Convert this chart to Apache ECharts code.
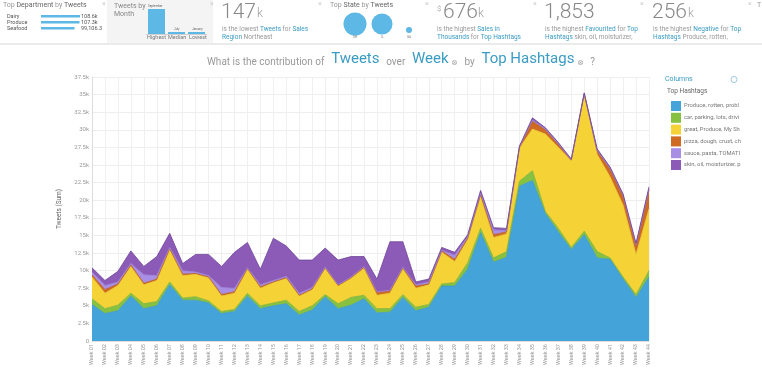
<!DOCTYPE html>
<html><head><meta charset="utf-8">
<script src="https://cdn.jsdelivr.net/npm/echarts@6/dist/echarts.min.js"></script>
<style>html,body{margin:0;padding:0;background:#fff}#c{width:762px;height:368px}</style>
</head><body><div id="c"></div>
<script>
const weeks = ['Week 01','Week 02','Week 03','Week 04','Week 05','Week 06','Week 07','Week 08','Week 09','Week 10','Week 11','Week 12','Week 13','Week 14','Week 15','Week 16','Week 17','Week 18','Week 19','Week 20','Week 21','Week 22','Week 23','Week 24','Week 25','Week 26','Week 27','Week 28','Week 29','Week 30','Week 31','Week 32','Week 33','Week 34','Week 35','Week 36','Week 37','Week 38','Week 39','Week 40','Week 41','Week 42','Week 43','Week 44'];
const seriesNames = ['Produce, rotten, probl','car, parking, lots, drivi','great, Produce, My Sh','pizza, dough, crust, ch','sauce, pasta, TOMATI','skin, oil, moisturizer, p'];
// values in thousands of tweets
const produce = [5.2,3.9,4.3,6.4,4.6,5.0,8.0,5.8,5.8,5.4,3.9,4.2,6.4,4.6,5.0,5.3,3.7,4.4,6.3,4.6,5.1,6.0,4.0,4.1,6.2,4.3,4.8,7.8,7.8,10.2,15.4,11.2,11.9,22.0,22.8,18.1,15.5,13.0,15.1,11.8,11.6,8.8,6.2,9.1];
const car = [0.8,0.7,0.8,0.4,0.7,0.6,0.4,0.3,0.5,0.3,0.3,0.3,0.4,0.4,0.4,0.5,0.5,0.6,0.3,0.7,1.1,0.5,0.6,0.5,0.4,0.5,0.4,0.3,0.5,0.9,0.6,0.6,0.8,0.7,1.4,0.3,0.5,0.3,0.5,0.9,0.2,0.3,0.4,0.9];
const great = [3.1,2.2,2.8,3.8,2.7,3.0,4.6,3.2,3.2,3.3,2.2,2.3,3.4,2.5,2.9,3.1,2.2,2.3,3.7,2.5,2.7,3.8,1.9,2.2,3.6,2.7,2.8,4.5,3.0,3.3,4.5,2.9,2.5,4.7,5.9,11.0,11.5,12.3,19.4,13.8,11.5,10.2,5.7,8.8];
const pizza = [0.3,0.5,0.2,0.2,0.2,0.2,0.1,0.2,0.1,0.1,0.2,0.2,0.1,0.2,0.1,0.1,0.1,0.1,0.1,0.1,0.1,0.2,0.4,0.3,0.2,0.3,0.1,0.2,0.3,0.2,0.3,0.4,0.3,0.1,1.1,0.6,0.4,0.1,0.1,0.5,1.1,1.3,1.2,2.7];
const sauce = [0.4,0.6,0.3,0.2,1.2,0.5,0.2,0.5,0.2,0.2,1.0,0.5,0.1,0.3,0.2,0.2,0.3,0.2,0.1,0.1,0.1,0.1,0.1,0.1,0.1,0.2,0.3,0.1,0.6,0.2,0.2,0.7,0.2,0.1,0.2,0.1,0.1,0.05,0.05,0.1,0.1,0.1,0.1,0.1];
const skin = [0.6,0.7,1.5,1.8,1.2,2.7,2.0,1.0,2.5,3.0,3.0,5.1,3.6,2.2,6.0,4.3,4.7,3.9,2.7,3.5,2.9,1.4,1.8,6.9,3.6,0.4,0.4,0.4,0.4,0.3,0.4,0.3,0.3,0.1,0.3,0.2,0.2,0.1,0.1,0.2,0.2,0.2,0.3,0.3];
const yTicks = {min:0, max:37.5, interval:2.5};

const colors = ['#44a3d8','#86c140','#f5d337','#cf6a22','#a98ee6','#8c5bb7'];
const lineColors = ['#3b95c8','#78b038','#e8c42e','#b85a18','#957ad6','#6f4598'];
const allData = [produce, car, great, pizza, sauce, skin];

const chart = echarts.init(document.getElementById('c'));
const teal = '#3b9cc3';
const g = '#999';

function txt(x,y,text,style){return {type:'text',left:x,top:y,style:Object.assign({text:text,font:'7px Roboto',fill:g},style||{})};}
const rich = {
  g:{fontSize:7,fill:'#999',fontFamily:'Roboto'},
  d:{fontSize:7,fill:'#666',fontFamily:'Roboto'},
  s:{fontSize:6.5,fill:'#999',fontFamily:'Roboto'},
  t:{fontSize:6.5,fill:teal,fontFamily:'Roboto'}
};
function rtxt(x,y,text){return {type:'text',left:x,top:y,style:{text:text,rich:rich,fill:'#999'}};}
const xs = [];
[102,210,318,425,533,640,748].forEach(x=>xs.push(txt(x,1,'×',{font:'7px Roboto',fill:'#ccc'})));

const graphic = [
  {type:'rect',shape:{x:107,y:0,width:106,height:43},style:{fill:'#f4f4f4'}},
  {type:'rect',shape:{x:0,y:43,width:762,height:2},style:{fill:'#ebebeb'}},
  // card 1
  rtxt(3,2,'{g|Top }{d|Department}{g| by }{d|Tweets}'),
  txt(7,14,'Dairy',{font:'5.5px Roboto',fill:'#555'}),
  txt(7,20,'Produce',{font:'5.5px Roboto',fill:'#555'}),
  txt(7,26,'Seafood',{font:'5.5px Roboto',fill:'#555'}),
  {type:'rect',shape:{x:41,y:15,width:39,height:2.5},style:{fill:'#5db8e6'}},
  {type:'rect',shape:{x:41,y:21,width:38.5,height:2.5},style:{fill:'#5db8e6'}},
  {type:'rect',shape:{x:41,y:27,width:33.5,height:2.5},style:{fill:'#5db8e6'}},
  txt(81,14,'108.6k',{font:'5.5px Roboto',fill:'#555'}),
  txt(81,20,'107.3k',{font:'5.5px Roboto',fill:'#555'}),
  txt(81,26,'99,106.3',{font:'5.5px Roboto',fill:'#555'}),
  // card 2
  txt(114,3,'Tweets by',{font:'7px Roboto',fill:'#888'}),
  txt(114,11,'Month',{font:'7px Roboto',fill:'#888'}),
  {type:'rect',shape:{x:148,y:9,width:17,height:25},style:{fill:'#5db8e6'}},
  {type:'rect',shape:{x:168,y:32,width:17,height:2},style:{fill:'#5db8e6'}},
  {type:'rect',shape:{x:188,y:32,width:17,height:2},style:{fill:'#5db8e6'}},
  txt(148,5,'September',{font:'3px Roboto',fill:'#666'}),
  txt(174,27.5,'July',{font:'3px Roboto',fill:'#666'}),
  txt(192,27.5,'January',{font:'3px Roboto',fill:'#666'}),
  {type:'rect',shape:{x:146,y:34,width:61,height:0.6},style:{fill:'#aaa'}},
  txt(147,35,'Highest',{font:'5.5px Roboto',fill:'#777'}),
  txt(168,35,'Median',{font:'5.5px Roboto',fill:'#777'}),
  txt(189,35,'Lowest',{font:'5.5px Roboto',fill:'#777'}),
  // card 3
  txt(221,2,'147',{font:'300 21px Roboto',fill:'#888'}),
  txt(257,8,'k',{font:'300 12px Roboto',fill:'#999'}),
  rtxt(222,26,'{s|is the lowest }{t|Tweets}{s| for }{t|Sales}'),
  rtxt(222,34,'{t|Region}{s| Northeast}'),
  // card 4
  rtxt(330,2,'{g|Top }{d|State}{g| by }{d|Tweets}'),
  {type:'circle',shape:{cx:355,cy:24,r:11.5},style:{fill:'#5db8e6'}},
  {type:'circle',shape:{cx:382,cy:24,r:10.5},style:{fill:'#5db8e6'}},
  {type:'circle',shape:{cx:409,cy:30,r:3},style:{fill:'#5db8e6'}},
  txt(353,36,'OH',{font:'3px Roboto',fill:'#777'}),
  txt(381,36,'IL',{font:'3px Roboto',fill:'#777'}),
  txt(407,36,'GA',{font:'3px Roboto',fill:'#777'}),
  // card 5
  txt(437,5,'$',{font:'300 8px Roboto',fill:'#999'}),
  txt(443,2,'676',{font:'300 21px Roboto',fill:'#888'}),
  txt(478,8,'k',{font:'300 12px Roboto',fill:'#999'}),
  rtxt(437,26,'{s|is the highest }{t|Sales in}'),
  rtxt(437,34,'{t|Thousands}{s| for }{t|Top Hashtags}'),
  // card 6
  txt(544,2,'1,853',{font:'300 21px Roboto',fill:'#888'}),
  rtxt(545,26,'{s|is the highest }{t|Favourited}{s| for }{t|Top}'),
  rtxt(545,34,'{t|Hashtags}{s| skin, oil, moisturizer,}'),
  // card 7
  txt(652,2,'256',{font:'300 21px Roboto',fill:'#888'}),
  txt(688,8,'k',{font:'300 12px Roboto',fill:'#999'}),
  rtxt(653,26,'{s|is the highest }{t|Negative}{s| for }{t|Top}'),
  rtxt(653,34,'{t|Hashtags}{s| Produce, rotten,}'),
  // card 8 (cut)
  txt(757,2,'T',{font:'7px Roboto',fill:'#999'}),
  // title
  {type:'text',left:207,top:52,style:{
    text:'{a|What is the contribution of}  {b|Tweets}  {a|over}  {b|Week}{c| ⊗}  {a|by}  {b|Top Hashtags}{c| ⊗}  {a|?}',
    rich:{a:{fontSize:10,fill:'#999',fontFamily:'Roboto',verticalAlign:'bottom'},
          b:{fontSize:15,fill:teal,fontFamily:'Roboto',verticalAlign:'bottom'},
          c:{fontSize:8,fill:'#aaa',fontFamily:'DejaVu Sans',verticalAlign:'bottom'}}}},
  // legend header
  txt(665,76,'Columns',{font:'7px Roboto',fill:teal}),
  {type:'circle',shape:{cx:734,cy:79.5,r:3},style:{fill:'none',stroke:'#9cc7dc',lineWidth:1}},
  txt(667,88,'Top Hashtags',{font:'6.5px Roboto',fill:'#666'})
].concat(xs);

const series = seriesNames.map((n,i)=>({
  name:n, type:'line', stack:'total', data:allData[i], symbol:'none', smooth:false,
  lineStyle:{width:0.8,color:lineColors[i]}, itemStyle:{color:colors[i]},
  areaStyle:{color:colors[i],opacity:1}, emphasis:{disabled:true}
}));

chart.setOption({
  animation:false,
  textStyle:{fontFamily:'Roboto'},
  graphic:graphic,
  legend:{orient:'vertical',left:666,top:96,itemWidth:10,itemHeight:10,itemGap:1.8,icon:'rect',
    selectedMode:false,textStyle:{fontSize:5.8,color:'#777',padding:[0,0,0,-2]},data:seriesNames},
  grid:{left:92,right:113,top:77,bottom:24},
  xAxis:{type:'category',data:weeks,boundaryGap:false,
    axisLine:{show:true,lineStyle:{color:'#ddd'}},axisTick:{show:false},
    axisLabel:{rotate:90,fontSize:5.5,color:'#999',interval:0,margin:3},
    splitLine:{show:true,lineStyle:{color:'#f0f0f0',width:1}}},
  yAxis:{type:'value',min:yTicks.min,max:yTicks.max,interval:yTicks.interval,
    name:'Tweets (Sum)',nameLocation:'middle',nameGap:18,nameTextStyle:{fontSize:6.5,color:'#666'},
    axisLine:{show:true,lineStyle:{color:'#ddd'}},axisTick:{show:false},
    axisLabel:{fontSize:6,color:'#999',margin:3,formatter:v=>v===0?'0':(v+'k')},
    splitLine:{lineStyle:{color:'#eee'}}},
  series:series
});
</script></body></html>
